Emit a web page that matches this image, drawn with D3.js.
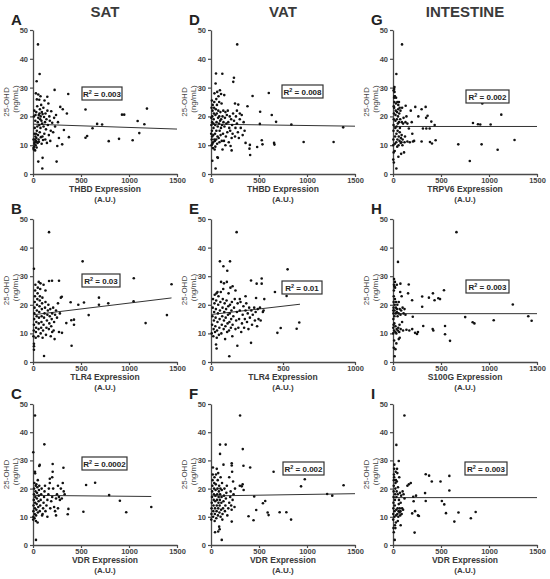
<!DOCTYPE html>
<html>
<head>
<meta charset="utf-8">
<script src="https://cdn.jsdelivr.net/npm/d3@7"></script>
<style>
body { margin: 0; background: #fff; }
svg text { font-family: Arial, "Liberation Sans", sans-serif; }
</style>
</head>
<body>
<div id="chart"></div>
<script>
// tissues (columns) and panel letters
const tissues = ["SAT", "VAT", "INTESTINE"]
const panelLetters = ["A", "D", "G", "B", "E", "H", "C", "F", "I"]
const genes = ["THBD", "THBD", "TRPV6", "TLR4", "TLR4", "S100G", "VDR", "VDR", "VDR"]
const r2Values = ["0.003", "0.008", "0.002", "0.03", "0.01", "0.003", "0.0002", "0.002", "0.003"]
const xMaxes = [1500, 1500, 1500, 1500, 1000, 1500, 1500, 1500, 1500]
const yTicks = [0, 10, 20, 30, 40, 50]

// regression line end points [x0, y0, x1, y1]
const fitLines = [
    [0, 17.3, 1500, 15.6],
    [0, 17.3, 1500, 16.6],
    [0, 16.5, 1500, 16.5],
    [0, 16.5, 1443, 22.4],
    [0, 16.6, 618, 20.2],
    [0, 16.9, 1500, 16.9],
    [0, 17.6, 1232, 17.2],
    [0, 17.4, 1500, 18.2],
    [0, 16.8, 1500, 16.8],
]

// [expression, 25-OHD]
const satThbd = [
    [52,45],[69,34.7],[38,32.2],[225,29.2],[367,27.8],[55,27.6],[30,28],[40,25.9],[284,23.3],[310,22.5],[1187,22.7],[547,22.4],
    [353,21],[927,20.6],[950,20.6],[1090,18.4],[1160,17.3],[668,17.4],[720,17.2],[620,15.9],[322,15.3],[564,13.2],[547,12.6],
    [374,12.8],[896,12.2],[789,11.4],[1038,11.7],[1107,14.2],[304,10.3],[253,9.7],[246,4.3],[100,5.6],[55,4.3],[97,1.9],
    [5,9],[8,8.5],[12,9.5],[15,10.5],[18,11],[20,12],[22,8.2],[25,13],[28,10],[30,11.5],[32,14],[35,12.5],[38,9.2],[40,15],
    [42,11],[45,16.5],[48,10.8],[50,18],[52,13.5],[55,19.5],[58,12],[60,20.5],[62,11.2],[65,17],[68,21],[70,14.5],[72,22.5],
    [75,19],[78,16],[80,20],[82,12.8],[85,24],[88,18.5],[90,10.5],[92,21.5],[95,17.5],[98,13],[100,20.8],[105,11.8],[108,23],
    [110,16.5],[115,19.8],[118,14],[120,25.5],[125,18],[128,12],[130,21],[135,15.5],[140,19],[145,10.8],[150,22],[155,17],
    [160,24.5],[165,13.5],[170,20],[175,18.5],[180,11.5],[185,15],[190,21.8],[200,17.8],[210,14.5],[220,19.5],[230,16.5],
    [240,20.5],[260,18],[270,12.5],[10,20],[14,22],[18,16],[24,18.5],[26,20.5],[34,21.5],[44,23.5],[15,14],[6,12],[65,25.8],
    [78,27],[149,26.8],
]
const vatThbd = [
    [273,45],[52,34.9],[118,34.8],[239,33.4],[232,32],[48,31.4],[93,29.1],[138,27.4],[433,27.1],[602,28.1],[380,23.5],[284,24.1],
    [512,21.6],[633,20.5],[678,18.1],[509,17.4],[837,17.2],[1377,16.2],[1277,11.1],[965,11.1],[529,11.7],[536,10.3],[657,10.8],
    [661,10.2],[405,10.1],[401,8.8],[408,6.6],[481,9.4],[204,9.7],[215,8.2],[66,5.8],[72,5.6],[48,1.9],[14,4.6],
    [5,10],[8,12],[10,15],[12,18],[14,20],[16,22],[18,24],[20,9],[22,11],[24,13.5],[26,16],[28,19],[30,21],[32,23],[34,25],
    [36,28],[38,8.5],[40,11.5],[42,14],[44,17],[46,20.5],[50,22.5],[54,12],[56,15],[58,18],[60,21],[62,24],[64,10.5],[68,13],
    [70,16.5],[74,19.5],[76,22],[78,27],[80,12.5],[84,17.5],[86,20],[88,11],[90,15],[95,18.5],[98,21.5],[100,13.5],[104,16],
    [106,19],[110,24.5],[112,11.5],[115,17],[120,20],[125,14],[128,22],[130,18],[135,11.5],[140,16.5],[145,19.5],[150,21.5],
    [155,13],[160,17.5],[165,20.5],[170,14.5],[175,22],[180,18],[185,11],[190,16],[195,20],[200,15],[210,19],[215,12.5],
    [220,17],[225,14],[230,21],[240,18.5],[250,13],[255,16],[260,20],[270,17.5],[280,14.5],[290,12.5],[300,19],[310,16],
    [320,20.5],[330,13.5],[340,18],[350,15],[360,10.8],[2,14],[4,17],[3,19.5],[6,23],[9,25.5],[12,13],[15,10.5],[25,17.5],
    [35,12],[45,9.5],[55,26],[65,28.5],[85,25],[105,27.8],[120,8.5],[150,10],[250,24.5],[270,22],[300,21],
]
const intTrpv6 = [
    [94,45],[35,34.7],[12,29.5],[15,30.2],[132,23.7],[232,23.3],[340,23.3],[298,22.5],[930,24.5],[1128,20.6],[833,17.7],
    [885,17.3],[909,17.2],[1017,17.2],[264,20],[345,19.5],[360,20.2],[399,18.2],[434,17],[312,15.8],[347,15.8],[382,15.8],
    [201,14],[150,11.3],[208,11.3],[220,11.5],[385,11.1],[444,11.7],[406,10.6],[298,11.3],[680,10.3],[923,10.3],[1090,8.4],
    [1266,11.8],[800,4.5],
    [2,10],[4,12],[5,15],[6,17],[8,19],[10,21],[12,23],[14,25],[15,27],[16,28.5],[18,8],[20,10.5],[22,13],[24,16],[25,18.5],
    [26,20.5],[28,22],[30,24.5],[32,26.5],[34,11],[36,14],[38,16.5],[40,19],[42,21.5],[44,9.5],[46,12],[48,15],[50,17.5],
    [52,20],[54,22.5],[56,6],[58,10],[60,13],[62,18],[65,21],[68,11.5],[70,14.5],[72,16],[75,19],[78,22],[80,10.8],[82,12.5],
    [85,7],[88,11],[90,13.5],[92,18],[95,23],[98,10],[100,12],[105,17.5],[110,19.5],[115,7.5],[120,11],[125,13],[130,18],
    [140,20],[150,17.5],[165,15.8],[175,11],[185,22],[195,18],[3,5],[7,7.5],[9,4],[35,1.9],[12,26.5],[20,27],[6,29],
    [8,23.5],[45,25],[55,24],[62,25],[70,23],
]
const satTlr4 = [
    [167,45.4],[517,35.2],[10,32.6],[1050,29.3],[198,28.4],[167,28.3],[271,28.4],[687,22.5],[687,20],[784,20.5],[580,16.4],
    [1173,13.6],[1395,16.4],[1443,27.2],[1048,21.2],[392,20.9],[472,20],[531,20.8],[399,14.6],[427,14.8],[427,13],[347,13.6],
    [402,5.7],[115,2.1],[10,4.3],[10,5.5],[10,6.4],[290,22.5],[300,22.8],[271,10.5],[302,10.2],
    [5,9],[8,11],[10,13],[12,15],[14,17],[16,19],[18,21],[20,23],[22,25],[25,27],[28,8.5],[30,10.5],[32,12],[35,14],[38,16],
    [40,18],[42,20],[45,22],[48,24],[50,26],[55,9],[58,11.5],[60,13.5],[62,15.5],[65,17.5],[68,19.5],[70,21.5],[72,23],
    [75,25.5],[78,27.5],[80,10],[85,12],[88,14],[90,16],[92,18.5],[95,20.5],[98,22.5],[100,8.5],[105,11],[110,13],[115,15.5],
    [120,17],[125,19],[130,21],[135,9.5],[140,12],[145,14.5],[150,16.5],[155,18],[160,20],[165,11.5],[170,13.5],[175,16],
    [180,18.5],[185,9],[190,12.5],[195,15],[200,17],[210,19],[215,11],[220,14],[230,16.5],[240,18],[250,15.5],[260,20.5],
    [280,17],[200,10.5],[225,8],[130,25],[110,27],[60,28],
]
const vatTlr4 = [
    [178,45.4],[62,35.2],[132,35.2],[86,33.5],[113,31.9],[532,32.4],[278,28.5],[317,27.4],[352,29.2],[352,27.4],[444,24.5],
    [525,23.1],[370,22],[313,22.4],[613,13.8],[595,11.6],[484,11.9],[461,10.2],[278,6.7],[183,5.7],[127,2],[35,6.1],[39,4.7],
    [5,10],[8,13],[10,16],[12,19],[14,22],[16,9],[18,11.5],[20,14.5],[22,17.5],[24,20.5],[26,23.5],[28,10.5],[30,12.5],
    [32,15.5],[34,18.5],[36,21.5],[38,24],[40,8.5],[42,11],[45,14],[48,17],[50,20],[52,23],[55,9.5],[58,12],[60,15],[62,18],
    [65,21],[68,24.5],[70,28],[72,10],[75,13],[78,16],[80,19],[82,22],[85,25.5],[88,11.5],[90,14.5],[92,17.5],[95,20.5],
    [98,8],[100,12.5],[102,15.5],[105,18.5],[108,21.5],[110,28],[112,10.5],[115,13.5],[118,16.5],[120,19.5],[122,24],[125,11],
    [128,14],[130,17],[132,20],[135,26],[138,12],[140,15],[142,18],[145,21],[148,9],[150,13],[155,16],[160,19],[165,22],
    [170,11.5],[175,14.5],[180,17.5],[185,20.5],[190,12],[195,15],[200,18],[205,21],[210,10.5],[215,13.5],[220,16.5],
    [225,19.5],[230,12],[235,15],[240,18],[245,20.5],[250,14],[255,17],[260,11.5],[265,19],[270,15.5],[280,18],[285,13],
    [290,16.5],[300,19],[305,14.5],[310,17.5],[320,12.5],[325,18.5],[330,15],[340,19],[345,14.5],[360,17.5],[365,18],
    [150,26.5],[170,25],[200,22],[240,23],[90,27.5],[45,24.5],
]
const intS100g = [
    [661,45.4],[52,35],[164,27.1],[77,27.4],[157,24],[531,25.1],[304,22.9],[304,19.3],[374,22.5],[416,24],[433,21.6],
    [472,22.3],[490,22],[199,21.6],[1248,20.1],[752,15.7],[830,13.9],[848,13.5],[1049,14.6],[1409,16],[1444,14.4],[542,12.6],
    [542,9.7],[594,7.4],[315,12.6],[413,11.5],[420,11],[140,11.3],[170,11],[200,11.5],[230,10.2],[250,9.8],[260,10.5],
    [17,2],[25,4.5],[35,6.5],[60,8],[70,8.5],[206,15.8],
    [2,10],[3,12],[4,15],[5,17],[6,19],[7,21],[8,23],[9,25],[10,27],[11,29],[12,11],[14,13.5],[15,16],[16,18],[18,20],
    [20,22],[22,26],[24,10.5],[26,12.5],[28,17],[30,19],[32,21],[35,10],[38,11.5],[40,17.5],[42,18.5],[45,20],[48,16],
    [50,11],[55,12],[58,17],[60,21],[65,10.5],[68,13],[70,18.5],[75,24.5],[78,16.5],[80,11.5],[85,18],[90,23],[95,14],
    [100,19],[105,11],[110,17],[120,18.5],[130,16.5],[12,7.5],[8,5],[15,26.5],[20,28],[40,27],[3,18],[6,13],
]
const satVdr = [
    [21,45.9],[118,35.7],[3,32.9],[205,28.7],[205,26],[70,28.4],[65,28],[317,27.4],[20,26],[22,25.4],[553,21.3],[647,22.1],
    [793,17.7],[905,15.7],[1232,13.5],[971,11.6],[525,11.8],[369,12.8],[362,10.9],[31,1.8],
    [2,9],[4,10],[5,12],[6,14],[8,16],[10,18],[12,20],[14,22],[16,9.5],[18,11],[20,13],[22,15],[24,17],[26,19],[28,21],
    [30,8.5],[32,10.5],[35,12.5],[38,14.5],[40,16.5],[42,18.5],[45,20.5],[48,8],[50,11.5],[55,13.5],[58,15.5],[60,17.5],
    [62,19.5],[65,21],[70,12],[75,14],[80,16],[85,18],[90,20],[95,10.5],[100,11],[105,13],[110,15],[115,17],[120,19],
    [125,21],[130,12],[140,14],[150,16],[160,18],[165,20],[175,22],[180,13],[190,15.5],[200,17],[210,20],[220,13.5],
    [230,12],[240,16.5],[250,18],[260,21],[270,17],[280,16],[290,20],[300,16.5],[310,22],[320,19],[330,18],[175,23.5],
    [200,24],[150,10],[240,10.5],[260,13],[35,21.5],[50,23],
]
const vatVdr = [
    [303,45.9],[94,35.6],[153,35.6],[94,32.3],[331,34],[338,28.1],[408,27.5],[652,26],[216,29],[216,28.2],[977,23.3],
    [938,20.8],[1381,21.2],[1210,18.1],[1263,17.5],[450,17.2],[565,15.6],[541,14.8],[471,12.4],[590,11.5],[600,10.6],
    [715,11.6],[785,11.6],[834,9],[391,10.2],[443,8.8],[216,8.3],[112,1.8],[42,4.5],[90,5.6],[85,6.5],[75,4.8],[300,21],
    [320,20.8],[340,19.5],[330,21.5],[220,26],[230,22.5],
    [3,9],[5,11],[6,13],[8,15],[10,17],[12,19],[14,21],[16,23],[18,25],[20,27.5],[22,10],[24,12],[26,14],[28,16],[30,18],
    [32,20],[34,22],[36,24],[38,8.5],[40,11],[42,13],[44,15.5],[46,17.5],[48,19.5],[50,21.5],[52,25],[55,9.5],[58,12],
    [60,14],[62,16],[65,18],[68,20],[70,23],[72,10.5],[75,13],[78,15],[80,17],[82,19],[85,21],[88,11.5],[90,14],[92,16],
    [95,18],[98,20],[100,10],[105,12.5],[108,15],[110,17],[112,19.5],[115,22],[118,9],[120,11],[125,13],[130,15.5],
    [135,17.5],[140,20],[145,12],[150,14],[155,16.5],[160,18.5],[165,21],[170,10.5],[180,13],[190,15],[200,17],[205,19],
    [210,14],[215,12.5],[225,16],[235,18],[245,13.5],[250,20],[100,24],[60,27],[75,25.5],[130,28.5],[190,24],
]
const intVdr = [
    [119,45.9],[35,35.5],[60,29.8],[341,25.1],[376,24.6],[404,22.5],[495,22.5],[587,24.5],[587,19.3],[334,18.4],[150,21],
    [165,21.5],[185,22],[341,15.6],[509,15.6],[534,14.4],[552,11.3],[682,11.5],[861,11.7],[639,8.3],[811,9.5],[225,4.4],
    [18,1.8],[211,17.1],[200,11.2],[230,12],[260,10.5],[270,10.3],[215,15.5],[240,17.5],
    [2,9],[3,11],[4,13],[5,15],[6,17],[7,19],[8,21],[9,23],[10,25],[12,27],[14,28.5],[15,10],[16,12],[18,14],[20,16],
    [22,18],[24,20],[26,22],[28,26],[30,8],[32,10.5],[34,12.5],[36,17],[38,19],[40,22.5],[42,27],[45,11],[48,13],[50,18],
    [52,20.5],[55,10],[58,12],[60,14.5],[62,16],[65,24],[68,11.5],[70,13],[72,18.5],[75,10.5],[78,12],[80,15],[85,17.5],
    [90,11],[95,13],[100,19],[105,12.5],[110,18],[120,16.5],[5,6],[8,4.5],[20,7],[25,6],[50,8.5],[80,7],[12,24],[30,23],
    [45,25.5],
]
const panelData = [satThbd, vatThbd, intTrpv6, satTlr4, vatTlr4, intS100g, satVdr, vatVdr, intVdr]

const width = 550
const height = 579
const colX = [33, 211, 393]
const rowY = [30, 219, 404]
const rowH = [144, 143, 141]
const plotW = 144

// R² box placement relative to each panel origin: [left, top, width]
const r2Boxes = [
    [49, 57, 40], [71, 55, 41], [73, 60, 43],
    [49, 55, 38], [71, 62, 40], [73, 61, 43],
    [49, 53, 45], [72, 58, 41], [72, 58, 42],
]

const axisInk = "#4a4a4a"

const svg = d3.select("#chart").append("svg").attr("width", width).attr("height", height)

// column titles
tissues.forEach((t, i) => {
    svg.append("text")
        .attr("x", colX[i] + plotW / 2)
        .attr("y", 17)
        .attr("text-anchor", "middle")
        .attr("font-size", 15)
        .attr("font-weight", "bold")
        .attr("fill", "#3a3a3a")
        .text(t)
})

panelData.forEach((data, i) => {
    const col = i % 3
    const row = Math.floor(i / 3)
    const x0 = colX[col]
    const y0 = rowY[row]
    const h = rowH[row]

    const x = d3.scaleLinear().domain([0, xMaxes[i]]).range([0, plotW])
    const y = d3.scaleLinear().domain([0, 50]).range([h, 0])

    const g = svg.append("g").attr("transform", `translate(${x0},${y0})`)

    // panel letter
    svg.append("text")
        .attr("x", x0 - 22)
        .attr("y", y0 - 5)
        .attr("font-size", 15)
        .attr("font-weight", "bold")
        .attr("fill", "#222")
        .text(panelLetters[i])

    const yAxis = g.append("g").call(d3.axisLeft(y).tickValues(yTicks).tickSize(3).tickPadding(2).tickSizeOuter(0))
    const xTicks = xMaxes[i] === 1000 ? [0, 500, 1000] : [0, 500, 1000, 1500]
    const xAxis = g.append("g").attr("transform", `translate(0,${h})`)
        .call(d3.axisBottom(x).tickValues(xTicks).tickFormat(d3.format("d")).tickSize(3).tickPadding(1).tickSizeOuter(0))

    ;[yAxis, xAxis].forEach((ax) => {
        ax.select(".domain").attr("stroke", axisInk).attr("stroke-width", 1.3)
        ax.selectAll(".tick line").attr("stroke", axisInk).attr("stroke-width", 1.2)
        ax.selectAll("text").attr("font-size", 7.5).attr("font-weight", "bold").attr("fill", "#444")
            .attr("font-family", "Arial, 'Liberation Sans', sans-serif")
    })

    // y title
    const midY = h / 2
    g.append("text")
        .attr("transform", `translate(-24,${midY}) rotate(-90)`)
        .attr("text-anchor", "middle")
        .attr("font-size", 8)
        .attr("fill", "#444")
        .text("25-OHD")
    g.append("text")
        .attr("transform", `translate(-15,${midY - 3}) rotate(-90)`)
        .attr("text-anchor", "middle")
        .attr("font-size", 8)
        .attr("fill", "#444")
        .text("(ng/mL)")

    // x title
    g.append("text")
        .attr("x", plotW / 2)
        .attr("y", h + 18)
        .attr("text-anchor", "middle")
        .attr("font-size", 8.5)
        .attr("font-weight", "bold")
        .attr("fill", "#3a3a3a")
        .text(`${genes[i]} Expression`)
    g.append("text")
        .attr("x", plotW / 2)
        .attr("y", h + 28)
        .attr("text-anchor", "middle")
        .attr("font-size", 8)
        .attr("font-weight", "bold")
        .attr("fill", "#3a3a3a")
        .text("(A.U.)")

    // regression line
    const f = fitLines[i]
    g.append("line")
        .attr("x1", x(f[0])).attr("y1", y(f[1]))
        .attr("x2", x(f[2])).attr("y2", y(f[3]))
        .attr("stroke", "#333")
        .attr("stroke-width", 1)

    // points
    g.selectAll(".pt")
        .data(data)
        .enter()
        .append("circle")
        .attr("class", "pt")
        .attr("cx", (d) => x(d[0]))
        .attr("cy", (d) => y(d[1]))
        .attr("r", 1.3)
        .attr("fill", "#111")

    // R² box
    const b = r2Boxes[i]
    g.append("rect")
        .attr("x", b[0]).attr("y", b[1])
        .attr("width", b[2]).attr("height", 13)
        .attr("fill", "#fff")
        .attr("stroke", "#333")
        .attr("stroke-width", 1.2)
    const t = g.append("text")
        .attr("x", b[0] + b[2] / 2)
        .attr("y", b[1] + 9.5)
        .attr("text-anchor", "middle")
        .attr("font-size", 8)
        .attr("font-weight", "bold")
        .attr("fill", "#222")
    t.append("tspan").text("R")
    t.append("tspan").attr("font-size", 5.5).attr("dy", -3).text("2")
    t.append("tspan").attr("dy", 3).text(` = ${r2Values[i]}`)
})
</script>
</body>
</html>
